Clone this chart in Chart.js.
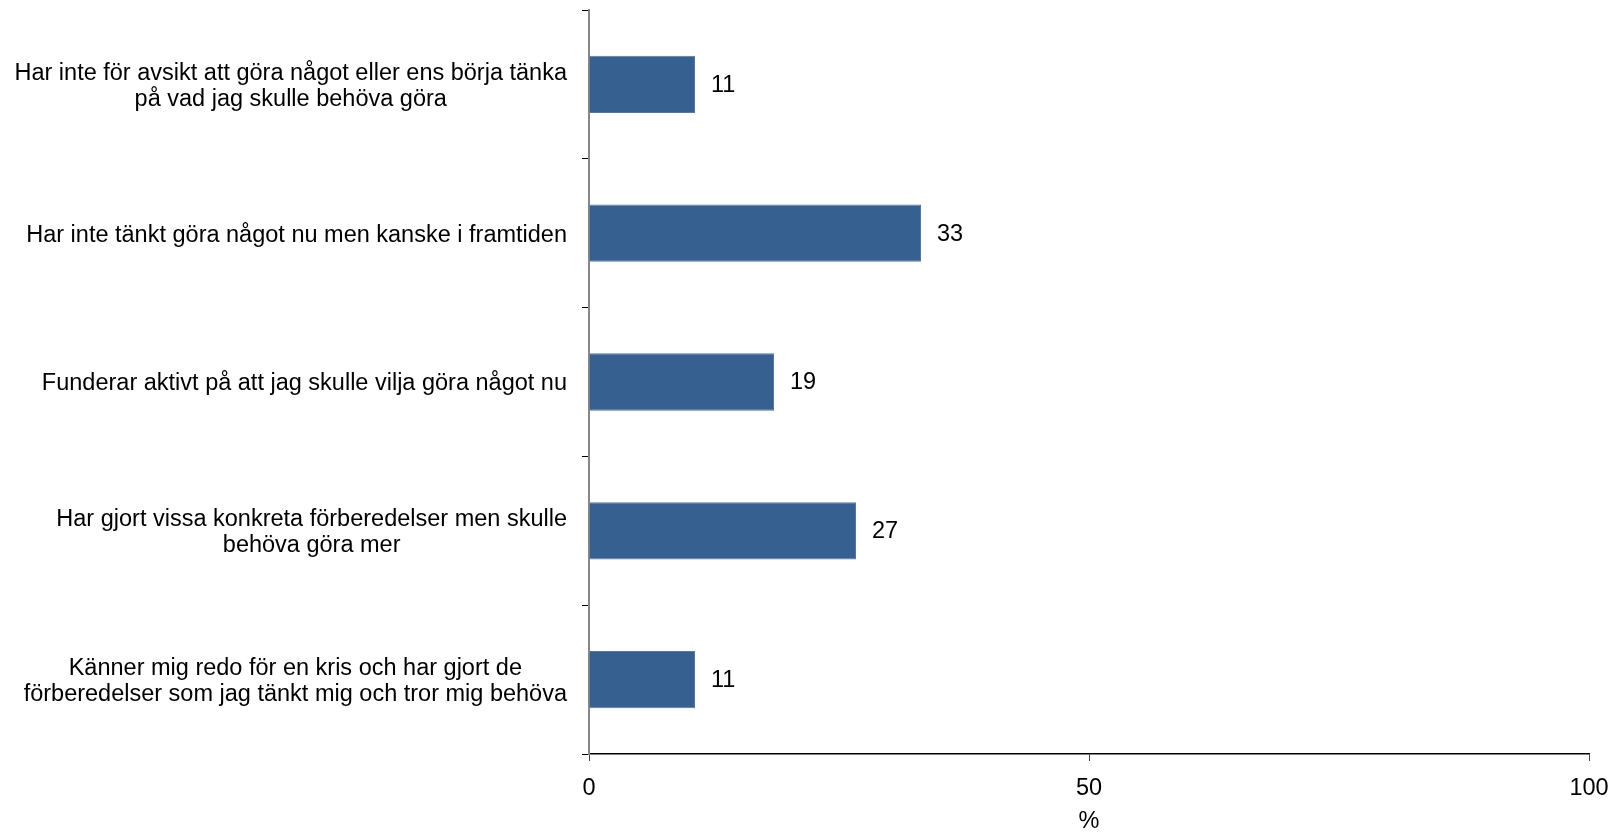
<!DOCTYPE html>
<html>
<head>
<meta charset="utf-8">
<script src="https://cdn.jsdelivr.net/npm/chart.js@4"></script>
<style>
  html, body { margin: 0; padding: 0; background: #fff; }
  #wrap { width: 1623px; height: 833px; }
</style>
</head>
<body>
<div id="wrap"><canvas id="chart" width="1623" height="833"></canvas></div>
<script>
const categories = [
  ["Har inte för avsikt att göra något eller ens börja tänka", "på vad jag skulle behöva göra"],
  "Har inte tänkt göra något nu men kanske i framtiden",
  "Funderar aktivt på att jag skulle vilja göra något nu",
  ["Har gjort vissa konkreta förberedelser men skulle", "behöva göra mer"],
  ["Känner mig redo för en kris och har gjort de", "förberedelser som jag tänkt mig och tror mig behöva"]
];
// bar lengths
const values = [10.6, 33.2, 18.5, 26.7, 10.6];
// printed value labels
const valueText = ["11", "33", "19", "27", "11"];
const xTicks = [0, 50, 100];

const FONT = "'Liberation Sans', Arial, sans-serif";
const SIZE = 23.5;

// category labels: block right-aligned, lines centred within the block
const categoryLabels = {
  id: "categoryLabels",
  afterDraw(chart) {
    const ctx = chart.ctx;
    const y = chart.scales.y;
    const right = y.right - 22;
    const lh = 26;
    ctx.save();
    ctx.font = SIZE + "px " + FONT;
    ctx.fillStyle = "#000";
    ctx.textAlign = "center";
    ctx.textBaseline = "middle";
    categories.forEach((lab, i) => {
      const lines = Array.isArray(lab) ? lab : [lab];
      const w = Math.max(...lines.map(l => ctx.measureText(l).width));
      const cx = right - w / 2;
      const cy = y.getPixelForValue(i) + 2;
      lines.forEach((l, k) => {
        ctx.fillText(l, cx, cy + (k - (lines.length - 1) / 2) * lh);
      });
    });
    ctx.restore();
  }
};

// value labels at bar ends
const valueLabels = {
  id: "valueLabels",
  afterDatasetsDraw(chart) {
    const ctx = chart.ctx;
    const meta = chart.getDatasetMeta(0);
    ctx.save();
    ctx.font = SIZE + "px " + FONT;
    ctx.fillStyle = "#000";
    ctx.textAlign = "left";
    ctx.textBaseline = "middle";
    meta.data.forEach((bar, i) => {
      ctx.fillText(valueText[i], bar.x + 16, bar.y + 1);
    });
    ctx.restore();
  }
};

new Chart(document.getElementById("chart"), {
  type: "bar",
  data: {
    labels: categories,
    datasets: [{
      data: values,
      backgroundColor: "#36608F",
      borderColor: "#5578a3",
      borderWidth: 1,
      barPercentage: 0.385,
      categoryPercentage: 1
    }]
  },
  options: {
    indexAxis: "y",
    responsive: false,
    animation: false,
    layout: { padding: { top: 10, right: 34, left: 0, bottom: 0 } },
    plugins: { legend: { display: false }, tooltip: { enabled: false } },
    scales: {
      x: {
        min: 0,
        max: 100,
        afterBuildTicks(scale) { scale.ticks = xTicks.map(v => ({ value: v })); },
        afterFit(scale) { scale.height = 79; },
        grid: { drawOnChartArea: false, tickLength: 7, color: "#444", lineWidth: 1 },
        border: { color: "#000", width: 1.5 },
        ticks: { color: "#000", font: { family: FONT, size: SIZE }, padding: 13, maxRotation: 0 },
        title: { display: true, text: "%", color: "#000", font: { family: FONT, size: SIZE, lineHeight: 1 }, padding: { top: 4, bottom: 0 } }
      },
      y: {
        offset: true,
        afterFit(scale) { scale.width = 589; },
        grid: { offset: true, drawOnChartArea: false, tickLength: 7, color: "#000", lineWidth: 1 },
        border: { color: "#888", width: 2 },
        ticks: { display: false }
      }
    }
  },
  plugins: [valueLabels, categoryLabels]
});
</script>
</body>
</html>
